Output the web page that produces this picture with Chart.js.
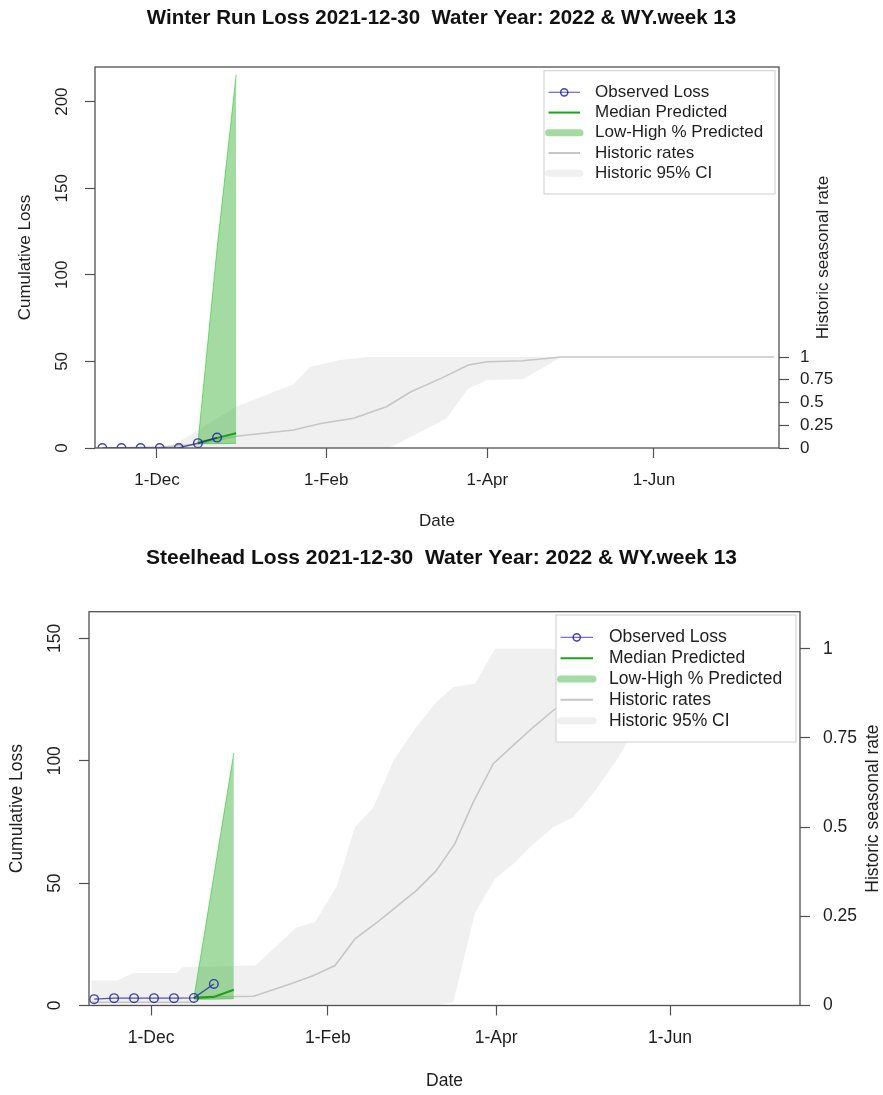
<!DOCTYPE html>
<html>
<head>
<meta charset="utf-8" />
<title>Winter Run and Steelhead Loss</title>
<script src="https://cdn.jsdelivr.net/npm/chart.js"></script>
<style>
  html, body { margin: 0; padding: 0; background: #fff; overflow: hidden; }
  canvas { display: block; position: absolute; left: 0; }
  #wrChart { top: 0; }
  #shChart { top: 540px; }
</style>
</head>
<body>
<canvas id="wrChart" width="883" height="540"></canvas>
<canvas id="shChart" width="883" height="555"></canvas>
<script>
// x values are days of the water year (1-Oct = 0)
const tickDays = [61, 123, 182, 243];
const tickLabels = ['1-Dec', '1-Feb', '1-Apr', '1-Jun'];
const rateTicks = [0, 0.25, 0.5, 0.75, 1];
const legendLabels = ['Observed Loss', 'Median Predicted', 'Low-High % Predicted', 'Historic rates', 'Historic 95% CI'];
const rateAxisTitle = 'Historic seasonal rate';

const obsDays = [41, 48, 55, 62, 69, 76, 83];
const predDays = [76, 83, 90];

// winter run
const wrTitle = 'Winter Run Loss 2021-12-30  Water Year: 2022 & WY.week 13';
const wrLossTicks = [0, 50, 100, 150, 200];
const wrObserved = [0, 0, 0, 0, 0, 2.8, 6];
const wrMedian = [2.8, 5.8, 8.5];
const wrLow = [2.5, 2.5, 2.7];
const wrHigh = [2.8, 115, 215.5];
const wrHistDays = [41, 62, 76, 90, 111, 121, 133, 145, 154, 165, 175, 182, 195, 209, 230, 287];
const wrHistRate = [0, 0.01, 0.04, 0.13, 0.198, 0.27, 0.326, 0.454, 0.618, 0.765, 0.912, 0.948, 0.959, 1, 1, 1];
const wrCIDays = [41, 62, 68, 90, 111, 117, 128, 138, 146, 167, 175, 182, 195, 209, 287];
const wrCIUpper = [0, 0, 0.05, 0.454, 0.70, 0.89, 0.967, 1, 1, 1, 1, 1, 1, 1, 1];
const wrCILower = [0, 0, 0, 0, 0, 0, 0, 0, 0, 0.325, 0.655, 0.747, 0.755, 1, 1];

// steelhead
const shTitle = 'Steelhead Loss 2021-12-30  Water Year: 2022 & WY.week 13';
const shLossTicks = [0, 50, 100, 150];
const shObserved = [2.6, 3, 3, 3, 3, 3.1, 8.8];
const shMedian = [3.1, 3.5, 6.4];
const shLow = [2.6, 2.6, 2.8];
const shHigh = [3.1, 53, 103.2];
const shHistDays = [40, 76, 78, 97, 110, 118, 125.5, 132.5, 141, 154, 161, 167.5, 174, 181, 188, 195, 202, 209, 216, 223, 230, 237, 287];
const shHistRate = [0.009, 0.009, 0.023, 0.026, 0.061, 0.084, 0.112, 0.187, 0.238, 0.322, 0.378, 0.453, 0.57, 0.678, 0.729, 0.78, 0.827, 0.87, 0.91, 0.95, 0.98, 1, 1];
const shCIDays = [40, 49, 55, 70, 72, 97.5, 112, 118.5, 126, 132.5, 139, 146, 154, 161, 167, 174.6, 181.6, 188, 195, 202, 209, 216, 225, 228, 232, 240, 250, 260, 287];
const shCIUpper = [0.07, 0.07, 0.091, 0.091, 0.107, 0.112, 0.219, 0.234, 0.332, 0.5, 0.556, 0.687, 0.78, 0.85, 0.892, 0.902, 1, 1, 1, 1, 1, 1, 1, 1, 1, 1, 1, 1, 1];
const shCILower = [0, 0, 0, 0, 0, 0, 0, 0, 0, 0, 0, 0, 0, 0, 0.01, 0.26, 0.355, 0.397, 0.453, 0.5, 0.528, 0.594, 0.696, 0.738, 0.8, 0.9, 0.97, 1, 1];

const FONT = "'Liberation Sans', Arial, Helvetica, sans-serif";
const INK = '#1e1e1e';
const AXIS = '#505050';
const OBS_LINE = 'rgba(30,30,150,0.75)';
const OBS_POINT = 'rgba(35,35,165,0.85)';
const MED = '#1fa01f';
const BAND = 'rgba(50,175,50,0.45)';
const BAND_EDGE = 'rgba(40,200,40,0.6)';
const HIST = '#c6c6c6';
const CI = '#f0f0f0';

const legendSwatches = [
  { color: 'rgba(80,80,190,0.8)', width: 1.3, circle: true },
  { color: MED, width: 2 },
  { color: '#a3dba3', width: 7 },
  { color: HIST, width: 2 },
  { color: CI, width: 7 }
];

function pts(xs, ys) { return xs.map((x, i) => ({ x: x, y: ys[i] })); }

function drawLegend(ctx, L) {
  ctx.save();
  ctx.fillStyle = '#fff';
  ctx.fillRect(L.x, L.y, L.w, L.h);
  ctx.strokeStyle = '#d6d6d6';
  ctx.lineWidth = 1.2;
  ctx.strokeRect(L.x, L.y, L.w, L.h);
  ctx.font = L.size + 'px ' + FONT;
  ctx.textBaseline = 'middle';
  ctx.textAlign = 'left';
  legendLabels.forEach((label, i) => {
    const y = L.row0 + i * L.step;
    const s = legendSwatches[i];
    ctx.beginPath();
    ctx.moveTo(L.x0, y);
    ctx.lineTo(L.x1, y);
    ctx.strokeStyle = s.color;
    ctx.lineWidth = s.width;
    ctx.lineCap = s.width > 4 ? 'round' : 'butt';
    ctx.stroke();
    if (s.circle) {
      ctx.beginPath();
      ctx.arc((L.x0 + L.x1) / 2, y, 3.6, 0, 2 * Math.PI);
      ctx.lineWidth = 1.5;
      ctx.strokeStyle = OBS_POINT;
      ctx.stroke();
    }
    ctx.fillStyle = INK;
    ctx.fillText(label, L.tx, y);
  });
  ctx.restore();
}

const rDecor = {
  id: 'rDecor',
  afterDatasetsDraw(chart) {
    const a = chart.chartArea, ctx = chart.ctx;
    ctx.save();
    ctx.strokeStyle = AXIS;
    ctx.lineWidth = 1.3;
    ctx.strokeRect(a.left, a.top, a.right - a.left, a.bottom - a.top);
    ctx.restore();
  },
  afterDraw(chart, args, o) {
    const a = chart.chartArea, ctx = chart.ctx;
    ctx.save();
    // R writes the side-4 label bottom to top
    ctx.translate(o.rightTitleX, (a.top + a.bottom) / 2);
    ctx.rotate(-Math.PI / 2);
    ctx.font = o.fontSize + 'px ' + FONT;
    ctx.fillStyle = INK;
    ctx.textAlign = 'center';
    ctx.textBaseline = 'middle';
    ctx.fillText(rateAxisTitle, 0, 0);
    ctx.restore();
    drawLegend(ctx, o.legend);
  }
};

function buildChart(id, c, g) {
  const font = { family: FONT, size: g.tick };
  const grid = { drawOnChartArea: false, drawTicks: true, tickLength: 10, tickWidth: 1.2, tickColor: AXIS };
  return new Chart(document.getElementById(id), {
    type: 'line',
    data: {
      datasets: [
        { label: legendLabels[0], data: pts(obsDays, c.obs), borderColor: OBS_LINE, borderWidth: 1.4,
          pointRadius: 4.3, pointBorderWidth: 1.4, pointBorderColor: OBS_POINT,
          pointBackgroundColor: 'rgba(0,0,0,0)', yAxisID: 'y' },
        { label: legendLabels[1], data: pts(predDays, c.median), borderColor: MED, borderWidth: 2.2,
          pointRadius: 0, yAxisID: 'y' },
        { label: legendLabels[2], data: pts(predDays, c.high), borderColor: BAND_EDGE, borderWidth: 1,
          backgroundColor: BAND, fill: '+1', pointRadius: 0, yAxisID: 'y' },
        { label: 'low', data: pts(predDays, c.low), borderColor: BAND_EDGE, borderWidth: 1,
          pointRadius: 0, yAxisID: 'y' },
        { label: legendLabels[3], data: pts(c.histDays, c.histRate), borderColor: HIST, borderWidth: 1.6,
          pointRadius: 0, yAxisID: 'y2' },
        { label: legendLabels[4], data: pts(c.ciDays, c.ciUpper), borderColor: 'rgba(0,0,0,0)', borderWidth: 1,
          backgroundColor: CI, fill: '+1', pointRadius: 0, yAxisID: 'y2' },
        { label: 'ci low', data: pts(c.ciDays, c.ciLower), borderColor: 'rgba(0,0,0,0)', borderWidth: 1,
          pointRadius: 0, yAxisID: 'y2' }
      ]
    },
    options: {
      responsive: false,
      animation: false,
      layout: { padding: 0 },
      elements: { line: { tension: 0 } },
      scales: {
        x: {
          type: 'linear', min: g.xMin, max: g.xMax,
          afterBuildTicks: s => { s.ticks = tickDays.map(v => ({ value: v })); },
          afterFit: s => { s.height = g.xHeight; },
          ticks: { autoSkip: false, maxRotation: 0, padding: g.xTickPad, color: INK, font: font,
                   callback: (v, i) => tickLabels[i] },
          grid: grid,
          border: { display: false },
          title: { display: true, text: 'Date', color: INK, font: font, padding: { top: 0, bottom: g.xTitlePad } }
        },
        y: {
          position: 'left', min: 0, max: c.yMax,
          afterBuildTicks: s => { s.ticks = c.lossTicks.map(v => ({ value: v })); },
          afterFit: s => { s.width = g.left; },
          ticks: { minRotation: 90, maxRotation: 90, crossAlign: 'center', padding: g.yTickPad,
                   color: INK, font: font, callback: v => String(v) },
          grid: grid,
          border: { display: false },
          title: { display: true, text: 'Cumulative Loss', color: INK, font: font,
                   padding: { top: g.yTitlePad, bottom: 0 } }
        },
        y2: {
          position: 'right', min: 0, max: c.rateMax,
          afterBuildTicks: s => { s.ticks = rateTicks.map(v => ({ value: v })); },
          afterFit: s => { s.width = g.rightW; },
          ticks: { padding: g.rTickPad, color: INK, font: font, callback: v => String(v) },
          grid: grid,
          border: { display: false }
        }
      },
      plugins: {
        legend: { display: false },
        tooltip: { enabled: false },
        title: { display: true, text: c.title, color: '#111',
                 font: { family: FONT, size: g.titleSize, weight: 'bold', lineHeight: 1.2 },
                 padding: { top: g.titleTop, bottom: g.titleBottom } },
        rDecor: { rightTitleX: g.rightTitleX, fontSize: g.tick, legend: g.legend }
      }
    },
    plugins: [rDecor]
  });
}

buildChart('wrChart', {
  title: wrTitle, obs: wrObserved, median: wrMedian, low: wrLow, high: wrHigh,
  histDays: wrHistDays, histRate: wrHistRate, ciDays: wrCIDays, ciUpper: wrCIUpper, ciLower: wrCILower,
  lossTicks: wrLossTicks, yMax: 220, rateMax: 4.187
}, {
  xMin: 38.3, xMax: 288.8, left: 95, rightW: 104, xHeight: 92,
  titleSize: 20.5, titleTop: 5.7, titleBottom: 36.7, tick: 17,
  yTickPad: 8.3, yTitlePad: 14.8, xTickPad: 11.8, xTitlePad: 8.8, rTickPad: 11, rightTitleX: 823,
  legend: { x: 544, y: 70.7, w: 231, h: 123.3, row0: 92.3, step: 20.25, x0: 548.5, x1: 580, tx: 595, size: 17 }
});

buildChart('shChart', {
  title: shTitle, obs: shObserved, median: shMedian, low: shLow, high: shHigh,
  histDays: shHistDays, histRate: shHistRate, ciDays: shCIDays, ciUpper: shCIUpper, ciLower: shCILower,
  lossTicks: shLossTicks, yMax: 160.9, rateMax: 1.104
}, {
  xMin: 39.2, xMax: 288.6, left: 89, rightW: 83, xHeight: 89.5,
  titleSize: 21, titleTop: 5.4, titleBottom: 41.1, tick: 17.5,
  yTickPad: 9.4, yTitlePad: 6.5, xTickPad: 12, xTitlePad: 3.5, rTickPad: 13, rightTitleX: 873,
  legend: { x: 556, y: 75, w: 240, h: 127, row0: 97.3, step: 20.85, x0: 560.5, x1: 593, tx: 609, size: 17.5 }
});
</script>
</body>
</html>
